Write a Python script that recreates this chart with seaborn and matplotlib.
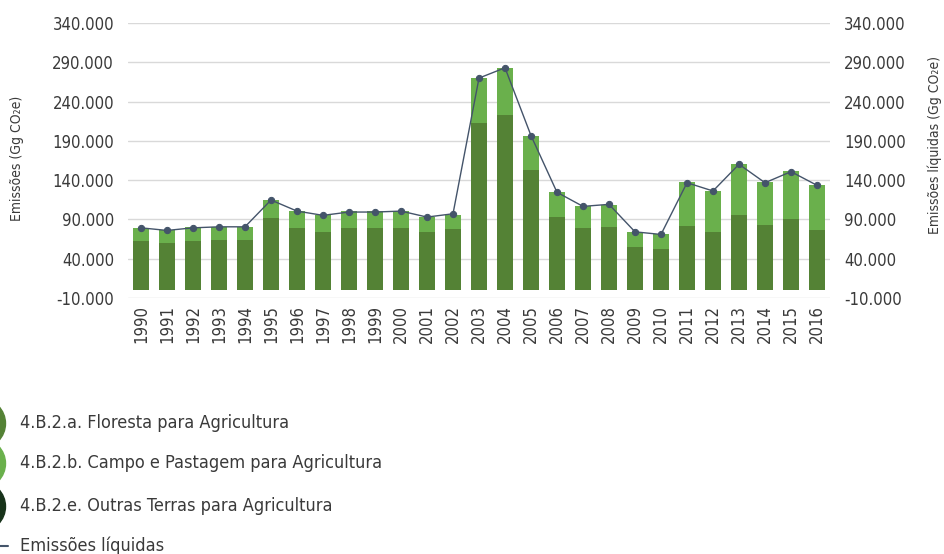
import matplotlib
matplotlib.use("Agg")
from matplotlib import pyplot as plt
from matplotlib.lines import Line2D
from matplotlib.ticker import FuncFormatter
import numpy as np
import pandas as pd
import seaborn as sns

# data (Gg CO2e)
years = [str(y) for y in range(1990, 2017)]
floresta = [62000, 58900, 62000, 63300, 63300, 90800, 78100, 73000, 78100, 78100,
            78100, 73500, 77300, 212000, 222700, 151700, 92100, 78100, 79300, 53800,
            51300, 80600, 73000, 95500, 81900, 89500, 76000]
campo = [16600, 17500, 17300, 16000, 16000, 22600, 22500, 21600, 21300, 21300,
         22100, 19100, 18200, 57900, 59900, 43300, 31500, 28000, 28900, 19600,
         20000, 56100, 51900, 64700, 54500, 60900, 56900]
outras = [700, 700, 700, 700, 700, 700, 700, 700, 700, 700,
          700, 700, 700, 700, 700, 700, 700, 700, 700, 700,
          700, 700, 700, 700, 700, 700, 700]
liquidas = [79300, 76000, 79300, 80600, 80600, 114700, 100600, 95200, 99400, 99400,
            100600, 93000, 97200, 269900, 283000, 196700, 124500, 106600, 109200, 74200,
            70900, 136700, 126200, 160200, 136700, 150800, 133400]

series_names = ["4.B.2.a. Floresta para Agricultura",
                "4.B.2.b. Campo e Pastagem para Agricultura",
                "4.B.2.e. Outras Terras para Agricultura",
                "Emissões líquidas"]
colors = ["#548235", "#6ab04c", "#17331a", "#44546a"]

df = pd.DataFrame({"ano": years, "floresta": floresta, "campo": campo,
                   "outras": outras, "liquidas": liquidas})
# stacked: outras at the base, floresta, then campo on top
df["s_outras"] = df["outras"]
df["s_floresta"] = df["outras"] + df["floresta"]
df["s_campo"] = df["s_floresta"] + df["campo"]

sns.set_style("white")
plt.rcParams["font.family"] = ["DejaVu Sans"]
plt.rcParams["font.stretch"] = "condensed"
txt = "#3a3a3a"

W, H = 945, 554
fig = plt.figure(figsize=(W / 100, H / 100), dpi=100)
ax = fig.add_axes([128 / W, 1 - 298 / H, 702 / W, 275 / H])

for col, c in [("s_campo", colors[1]), ("s_floresta", colors[0]), ("s_outras", colors[2])]:
    sns.barplot(data=df, x="ano", y=col, color=c, width=0.61, ax=ax,
                saturation=1, edgecolor="none", linewidth=0)

ax.set_ylim(-10000, 340000)
ax.set_xlim(-0.5, 26.72)
yt = np.arange(-10000, 340001, 50000)
ax.set_yticks(yt)
fmt = FuncFormatter(lambda v, p: f"{int(v):,}".replace(",", "."))
ax.yaxis.set_major_formatter(fmt)
ax.grid(axis="y", color="#d9d9d9", linewidth=1)
ax.set_axisbelow(True)
for s in ax.spines.values():
    s.set_visible(False)
ax.tick_params(axis="y", length=0, labelsize=12, labelcolor=txt, pad=10)
ax.tick_params(axis="x", length=0, labelsize=12, labelcolor=txt, rotation=90, pad=5)
ax.set_xlabel("")
ax.set_ylabel("")
fig.text(17 / W, 1 - 158 / H, "Emissões (Gg CO₂e)", rotation=90, fontsize=10,
         color=txt, ha="center", va="center")

ax2 = ax.twinx()
sns.pointplot(data=df, x="ano", y="liquidas", color=colors[3], markers="o",
              markersize=4.5, linewidth=1, ax=ax2)
ax2.set_ylim(-10000, 340000)
ax2.set_xlim(ax.get_xlim())
ax2.set_yticks(yt)
ax2.yaxis.set_major_formatter(fmt)
for s in ax2.spines.values():
    s.set_visible(False)
ax2.tick_params(axis="y", length=0, labelsize=12, labelcolor=txt, pad=10)
ax2.set_ylabel("")
fig.text(935 / W, 1 - 145 / H, "Emissões líquidas (Gg CO₂e)", rotation=90, fontsize=10,
         color=txt, ha="center", va="center")

# legend drawn by hand so the circles can sit half outside the left edge
rows = [423, 463, 506, 546]
for name, c, r in zip(series_names, colors, rows):
    y = 1 - r / H
    if c == colors[3]:
        fig.add_artist(Line2D([0, 8 / W], [y, y], color=c, linewidth=1.5,
                              transform=fig.transFigure))
    else:
        fig.add_artist(Line2D([-20 / W], [y], marker="o", markersize=36, color=c,
                              linestyle="none", transform=fig.transFigure))
    fig.text(20 / W, y, name, fontsize=13, color=txt, ha="left", va="center")

fig.savefig("out.png", dpi=100)
